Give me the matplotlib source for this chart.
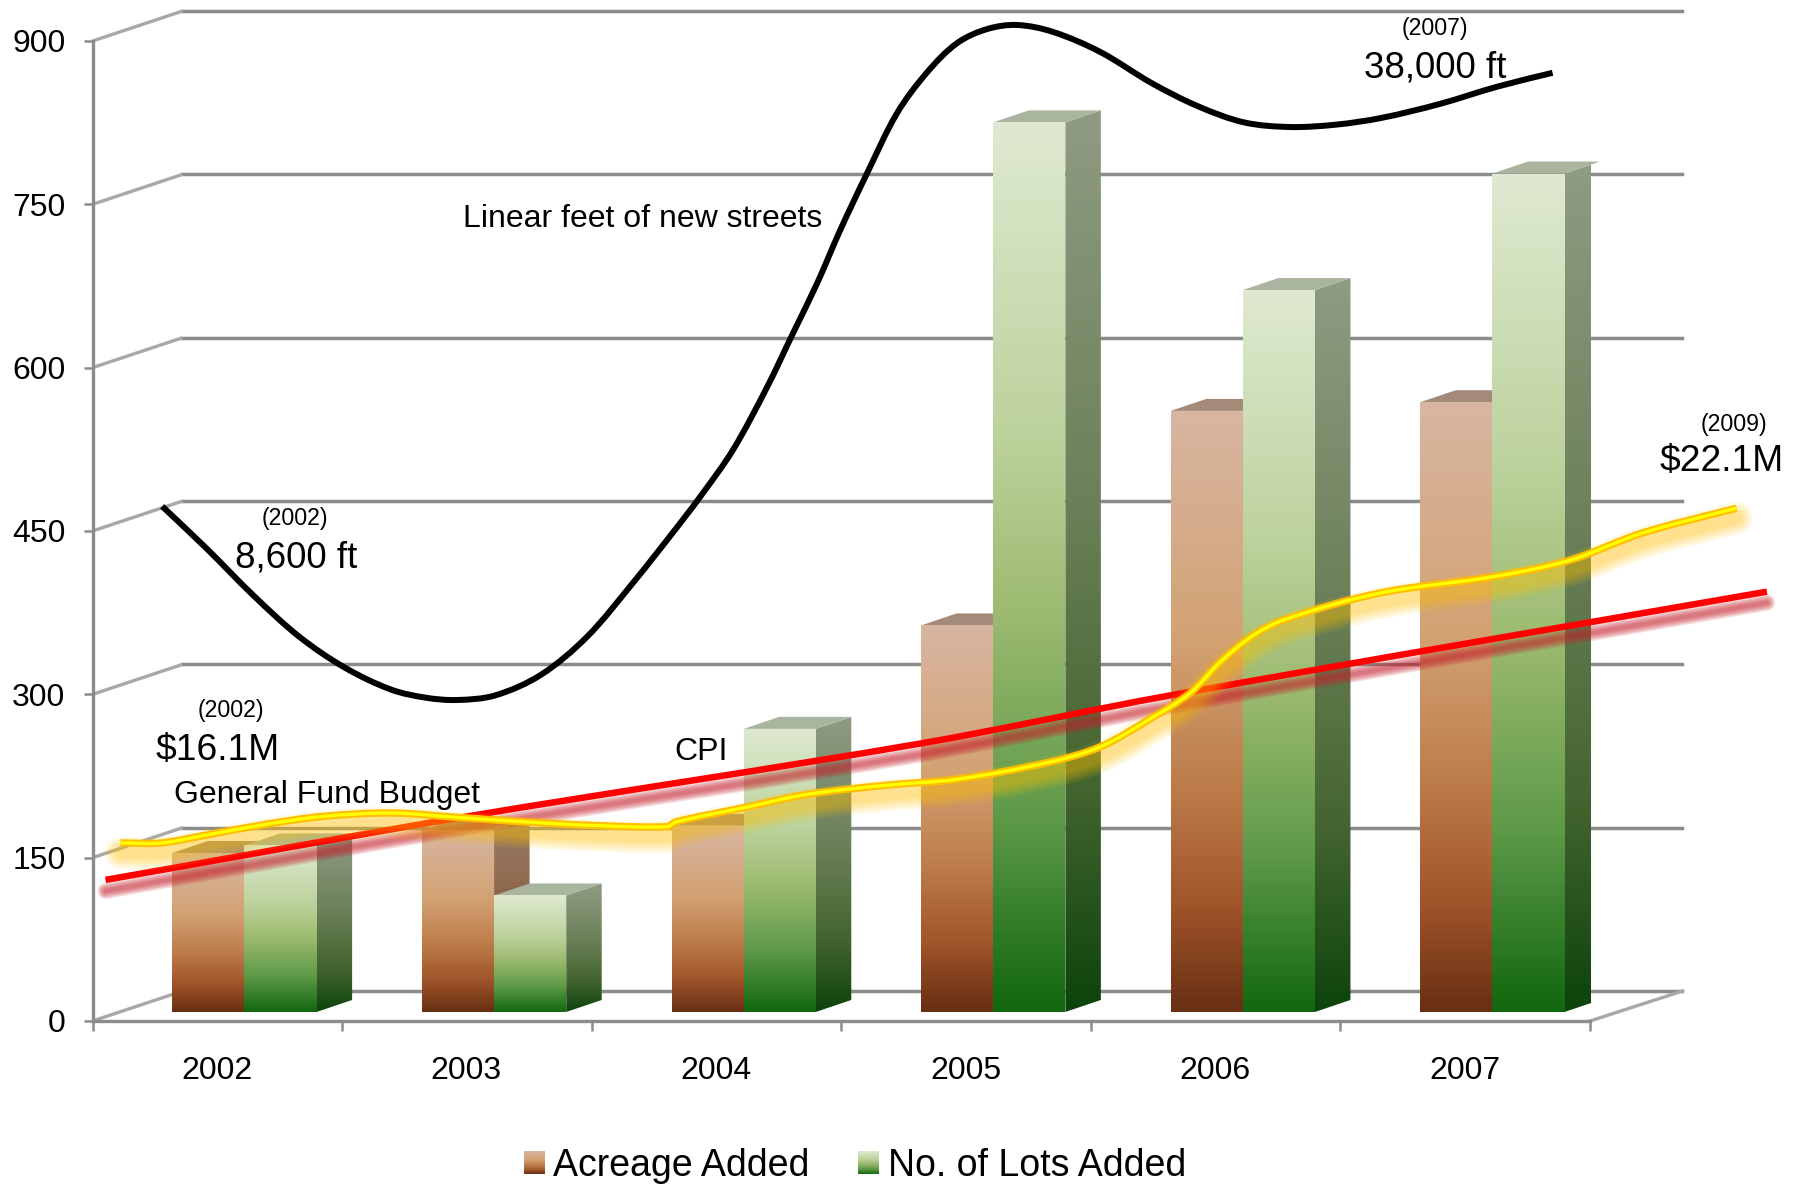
import numpy as np
import matplotlib
matplotlib.use("Agg")
import matplotlib.pyplot as plt
from matplotlib.colors import LinearSegmentedColormap as LSC
from matplotlib.patches import Polygon, PathPatch, Patch
from matplotlib.path import Path
from matplotlib.transforms import Affine2D, Bbox, TransformedBbox
from matplotlib.image import BboxImage
from matplotlib.legend_handler import HandlerBase

plt.rcParams['font.family'] = ['Liberation Sans', 'DejaVu Sans']

years = ['2002', '2003', '2004', '2005', '2006', '2007']
acreage = [146, 167, 171, 355, 552, 560]
lots = [153, 107, 260, 817, 663, 770]
y_ticks = [0, 150, 300, 450, 600, 750, 900]

street_x = [0.279, 0.459, 0.643, 0.828, 1.012, 1.197, 1.336, 1.460, 1.613, 1.797, 1.982, 2.167, 2.320,
            2.434, 2.566, 2.703, 2.807, 2.904, 2.996, 3.104, 3.224, 3.345, 3.465, 3.585, 3.705, 3.849,
            4.038, 4.244, 4.429, 4.613, 4.798, 4.983, 5.167, 5.398, 5.629, 5.850]
street_y = [472.7, 433.5, 391.2, 353, 324.4, 304.3, 296.9, 294.8, 299, 318, 353, 402.8, 447,
            481.2, 524.4, 582.2, 631.8, 677.8, 726.4, 778.8, 833.9, 871.5, 898.2, 911, 914.7, 908.3,
            889.9, 861.3, 840.1, 825.3, 821, 823.2, 829.5, 842.2, 858.1, 870.8]
cpi_x = [0.0524, 1.497, 3.321, 4.318, 6.709]
cpi_y = [129.6, 187.7, 255, 299, 394.3]
budget_x = [0.1124, 0.274, 0.459, 0.689, 0.920, 1.197, 1.474, 1.751, 2.028, 2.302, 2.340, 2.622, 2.859,
            3.179, 3.464, 3.820, 4.036, 4.249, 4.397, 4.520, 4.650, 4.780, 5.158, 5.611, 5.917, 6.208, 6.587]
budget_y = [163.5, 163.5, 170.9, 180.4, 187.8, 191, 186.8, 182.6, 179.4, 178.5, 183, 196.5, 208,
            216.5, 222, 237, 251.6, 279, 301, 330, 354, 369, 393, 408, 423, 448, 471]

W, H = 1808, 1184
L, R, B, T = 92.5, 1590, 1021, 41
fig = plt.figure(figsize=(W / 100, H / 100), dpi=100)
ax = fig.add_axes([L / W, 1 - B / H, (R - L) / W, (B - T) / H])
ax.patch.set_alpha(0)
XLIM, YLIM = (0, 6), (0, 900)
ax.set_xlim(XLIM)
ax.set_ylim(YLIM)

GRID = '#8c8c8c'
for s in ('top', 'right'):
    ax.spines[s].set_visible(False)
for s in ('left', 'bottom'):
    ax.spines[s].set_color(GRID)
    ax.spines[s].set_linewidth(2.4)
ax.set_yticks(y_ticks)
ax.set_xticks(range(7))
ax.set_xticklabels([])
ax.set_xticks([i + 0.498 for i in range(6)], labels=years, minor=True)
ax.tick_params(axis='y', length=6.5, width=1.8, color=GRID, pad=13, labelsize=23)
ax.tick_params(axis='x', which='major', length=7.5, width=1.8, color=GRID)
ax.tick_params(axis='x', which='minor', length=0, pad=25, labelsize=23)

# depth of the 3-D wall and of the columns, in data units
WX, WY = 90 / 249.6, 27.5
BX, BY = 35.5 / 249.6, 11
BASE = 8.3
BW = 0.289

# walls
for v in y_ticks:
    ax.plot([WX, 6 + WX + 0.01], [v + WY, v + WY], color=GRID, lw=2.5, clip_on=False, zorder=1)
    ax.plot([0, WX], [v, v + WY], color='#a8a8a8', lw=2.4, clip_on=False, zorder=1,
            solid_capstyle='butt')
ax.plot([6, 6 + WX + 0.01], [0, WY], color='#a8a8a8', lw=2.4, clip_on=False, zorder=1)

acre_front = LSC.from_list('af', [(0, '#d8b6a2'), (.38, '#d3a273'), (.62, '#bd7d4b'), (.82, '#a1552a'), (1, '#682f13')])
lots_front = LSC.from_list('lf', [(0, '#dfe9d1'), (.35, '#bcd29c'), (.55, '#9dbb70'), (.78, '#5f9a49'), (1, '#12680f')])
acre_side = LSC.from_list('as', [(0, '#9a7d68'), (.45, '#8b6347'), (.8, '#69391c'), (1, '#40200c')])
lots_side = LSC.from_list('ls', [(0, '#8f9b83'), (.45, '#6a7f57'), (.75, '#44652f'), (1, '#0d430c')])
GRAD = np.linspace(0, 1, 256)[:, None]


def grad_poly(pts, cmap, z):
    pts = np.array(pts)
    poly = Polygon(pts, closed=True, transform=ax.transData, fc='none', ec='none')
    ax.add_patch(poly)
    im = ax.imshow(GRAD, cmap=cmap, aspect='auto', origin='upper', interpolation='bilinear', zorder=z,
                   extent=(pts[:, 0].min(), pts[:, 0].max(), pts[:, 1].min(), pts[:, 1].max()))
    im.set_clip_path(poly)
    im.set_clip_box(None)


def column(x0, h, front, side, top, z):
    b, t = BASE, BASE + h
    x1 = x0 + BW
    grad_poly([(x1, b), (x1 + BX, b + BY), (x1 + BX, t + BY), (x1, t)], side, z)
    ax.add_patch(Polygon([(x0, t), (x1, t), (x1 + BX, t + BY), (x0 + BX, t + BY)], closed=True,
                         fc=top, ec='none', zorder=z, clip_on=False))
    grad_poly([(x0, b), (x1, b), (x1, t), (x0, t)], front, z + 0.1)


for i in range(6):
    column(i + 0.320, acreage[i], acre_front, acre_side, '#a48b79', 2 + i)
    column(i + 0.609, lots[i], lots_front, lots_side, '#a9b59f', 2.5 + i)
ax.set_xlim(XLIM)
ax.set_ylim(YLIM)


def smooth_path(xs, ys):
    # Bezier curve through the read points; tangents are measured in pixel space
    scale = np.array([249.6, 1.0889])
    p = np.column_stack([xs, ys]) * scale
    n = len(p)
    tang = np.zeros_like(p)
    for i in range(n):
        t = p[min(i + 1, n - 1)] - p[max(i - 1, 0)]
        tang[i] = t / np.hypot(*t)
    verts, codes = [p[0]], [Path.MOVETO]
    for i in range(n - 1):
        h = np.hypot(*(p[i + 1] - p[i])) / 3
        verts += [p[i] + tang[i] * h, p[i + 1] - tang[i + 1] * h, p[i + 1]]
        codes += [Path.CURVE4] * 3
    return Path(np.array(verts) / scale, codes)


def stroke(path, color, px, alpha=1.0, dy=0.0, dx=0.0, z=20, cap='round'):
    tr = ax.transData + Affine2D().translate(dx, dy)
    ax.add_patch(PathPatch(path, fc='none', ec=color, lw=px * 0.72, alpha=alpha, transform=tr,
                           clip_on=False, zorder=z, capstyle=cap, joinstyle='round'))


cpi_path = smooth_path(cpi_x, cpi_y)
budget_path = smooth_path(budget_x, budget_y)
street_path = smooth_path(street_x, street_y)

for w in (16, 13, 10, 7, 4):
    stroke(cpi_path, '#c4202c', w, alpha=0.17, dy=-11, z=20)
stroke(cpi_path, '#ff0000', 6.5, z=21, cap='butt')

for w in (32, 26, 21, 16, 11):
    stroke(budget_path, '#ffc000', w, alpha=0.11, dy=-10, z=22)
stroke(budget_path, '#ffbf00', 7.5, z=23, cap='butt')
stroke(budget_path, '#ffff00', 3.2, z=24, cap='butt')

stroke(street_path, '#000000', 6, z=25, cap='butt')


def put(x, y, s, size):
    fig.text(x / W, 1 - y / H, s, fontsize=size, ha='center', va='center', color='black', zorder=30)


put(295, 519, '(2002)', 16.7)
put(296, 558, '8,600 ft', 26.5)
put(1435, 29, '(2007)', 16.7)
put(1435, 68, '38,000 ft', 26.5)
put(231, 711, '(2002)', 16.7)
put(218, 750, '$16.1M', 26.8)
put(327, 795, 'General Fund Budget', 23)
put(643, 219, 'Linear feet of new streets', 23)
put(701, 752, 'CPI', 23)
put(1734, 424, '(2009)', 16.7)
put(1722, 462, '$22.1M', 26.8)


class GradHandler(HandlerBase):
    def create_artists(self, legend, orig, xd, yd, width, height, fontsize, trans):
        bbox = TransformedBbox(Bbox([[-xd, -yd], [-xd + width, -yd + height]]), trans)
        im = BboxImage(bbox, cmap=orig.grad_cmap, interpolation='bilinear', origin='upper')
        im.set_data(GRAD)
        return [im]


h1 = Patch(label='Acreage Added')
h1.grad_cmap = acre_front
h2 = Patch(label='No. of Lots Added')
h2.grad_cmap = lots_front
fig.legend(handles=[h1, h2], handler_map={Patch: GradHandler()}, ncol=2, frameon=False, fontsize=27,
           loc='center', bbox_to_anchor=(855 / W, 1 - 1166 / H), handlelength=0.55, handleheight=0.55,
           handletextpad=0.24, columnspacing=1.3, borderpad=0)

fig.savefig('out.png', dpi=100)
